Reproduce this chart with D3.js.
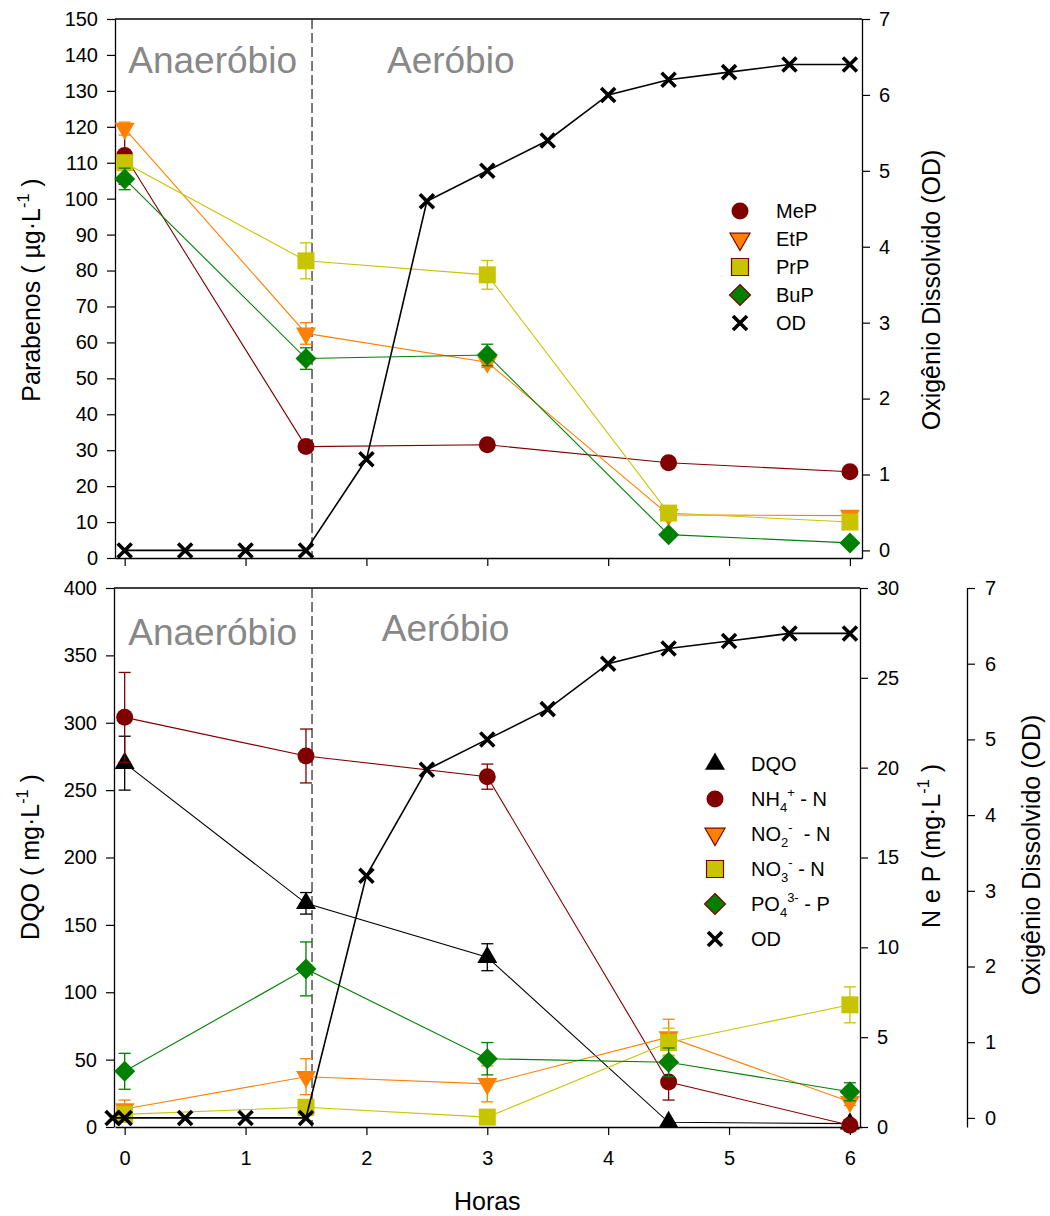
<!DOCTYPE html>
<html>
<head>
<meta charset="utf-8">
<script src="https://cdn.jsdelivr.net/npm/d3@7"></script>
<style>
  body { margin: 0; background: #fff; }
  svg { display: block; }
  text { font-family: "Liberation Sans", Arial, sans-serif; fill: #000; }
</style>
</head>
<body>
<svg id="chart" width="1050" height="1216"></svg>
<script>
// ---- sampling times (h) ----
const hours = [0, 1.5, 3, 4.5, 6];
const odHoursTop = [0, 0.5, 1, 1.5, 2, 2.5, 3, 3.5, 4, 4.5, 5, 5.5, 6];
const odHoursBottom = [-0.1, 0, 0.5, 1, 1.5, 2, 2.5, 3, 3.5, 4, 4.5, 5, 5.5, 6];
const phaseBoundary = 1.55;

// ---- parabens (µg/L) ----
const parabenNames = ["MeP", "EtP", "PrP", "BuP"];
const mepValues = [112, 31, 31.5, 26.5, 24];
const mepErrors = [8, 1, 1, 1, 1];
const etpValues = [119.5, 62.5, 54.5, 12, 11.8];
const etpErrors = [1.8, 3, 1.5, 1, 1];
const prpValues = [110, 82.7, 78.8, 12.5, 10];
const prpErrors = [2, 5, 4, 1, 1];
const bupValues = [105.5, 55.5, 56.5, 6.5, 4.2];
const bupErrors = [3, 3, 3, 1, 1];
const odTopValues = [0, 0, 0, 0, 1.2, 4.6, 5.0, 5.4, 6.0, 6.2, 6.3, 6.4, 6.4];

// ---- COD (mg/L), nitrogen and phosphorus (mg/L) ----
const dqoValues = [270, 166, 126, 3.5, 2.5];
const dqoErrors = [20, 8, 10, 0, 0];
const nh4Values = [22.8, 20.65, 19.5, 2.5, 0.1];
const nh4Errors = [2.5, 1.5, 0.7, 1.0, 0];
const no2Values = [1.0, 2.8, 2.4, 5.0, 1.4];
const no2Errors = [0.5, 1.0, 1.0, 1.0, 0.2];
const no3Values = [0.7, 1.1, 0.55, 4.7, 6.8];
const no3Errors = [0, 0, 0, 0.8, 1.0];
const po4Values = [3.1, 8.8, 3.8, 3.6, 1.96];
const po4Errors = [1.0, 1.5, 0.9, 0.8, 0.5];
const odBottomValues = [0, 0, 0, 0, 0, 3.2, 4.6, 5.0, 5.4, 6.0, 6.2, 6.3, 6.4, 6.4];

// ---- tick values ----
const hourTicks = [0, 1, 2, 3, 4, 5, 6];
const parabenTicks = d3.range(0, 151, 10);
const odTicks = [0, 1, 2, 3, 4, 5, 6, 7];
const dqoTicks = d3.range(0, 401, 50);
const npTicks = d3.range(0, 31, 5);

// ---- colours ----
const C = { red: "#800000", orange: "#ff8000", yellow: "#c8c400", green: "#008000", black: "#000" };

const svg = d3.select("#chart");
const FONT_TICK = 20, FONT_TITLE = 25, FONT_LEGEND = 20, FONT_PHASE = 37;

// ---- scales ----
const x = d3.scaleLinear().domain([-0.08, 6.1]).range([115, 862]);
const yPar = d3.scaleLinear().domain([0, 150]).range([558, 19]);
const yOdTop = d3.scaleLinear().domain([-0.1, 7]).range([558, 19]);
const yDqo = d3.scaleLinear().domain([0, 400]).range([1127, 588]);
const yNP = d3.scaleLinear().domain([0, 30]).range([1127, 588]);
const yOdBottom = d3.scaleLinear().domain([-0.12, 7]).range([1127, 588]);

// ---- marker shapes ----
function shapePath(kind, cx, cy) {
  const p = d3.path();
  if (kind === "circle") { p.moveTo(cx + 8.5, cy); p.arc(cx, cy, 8.5, 0, 2 * Math.PI); }
  else if (kind === "triDown") { p.moveTo(cx - 10, cy - 5.8); p.lineTo(cx + 10, cy - 5.8); p.lineTo(cx, cy + 11.5); p.closePath(); }
  else if (kind === "triUp") { p.moveTo(cx - 10, cy + 5.8); p.lineTo(cx + 10, cy + 5.8); p.lineTo(cx, cy - 11.5); p.closePath(); }
  else if (kind === "square") { p.rect(cx - 8.5, cy - 8.5, 17, 17); }
  else if (kind === "diamond") { p.moveTo(cx, cy - 10.5); p.lineTo(cx + 10.5, cy); p.lineTo(cx, cy + 10.5); p.lineTo(cx - 10.5, cy); p.closePath(); }
  else if (kind === "cross") { p.moveTo(cx - 7, cy - 7); p.lineTo(cx + 7, cy + 7); p.moveTo(cx + 7, cy - 7); p.lineTo(cx - 7, cy + 7); }
  return p.toString();
}

function drawMarker(g, kind, cx, cy, color, outline) {
  const m = g.append("path").attr("d", shapePath(kind, cx, cy));
  if (kind === "cross") {
    m.attr("fill", "none").attr("stroke", C.black).attr("stroke-width", 3.6);
  } else {
    m.attr("fill", color);
    if (outline) m.attr("stroke", outline).attr("stroke-width", 1.2);
  }
  return m;
}

function drawSeries(g, xs, values, errors, yScale, color, kind, lineWidth) {
  const pts = xs.map((h, i) => [h, values[i]]);
  g.append("path").datum(pts)
    .attr("d", d3.line().x(d => x(d[0])).y(d => yScale(d[1])))
    .attr("fill", "none").attr("stroke", color).attr("stroke-width", lineWidth || 1.1);
  if (errors) {
    pts.forEach((d, i) => {
      const e = errors[i];
      if (!e) return;
      const cx = x(d[0]), y1 = yScale(d[1] - e), y2 = yScale(d[1] + e);
      const eg = g.append("g").attr("stroke", color).attr("stroke-width", 1.3);
      eg.append("line").attr("x1", cx).attr("x2", cx).attr("y1", y1).attr("y2", y2);
      eg.append("line").attr("x1", cx - 6).attr("x2", cx + 6).attr("y1", y1).attr("y2", y1);
      eg.append("line").attr("x1", cx - 6).attr("x2", cx + 6).attr("y1", y2).attr("y2", y2);
    });
  }
  pts.forEach(d => drawMarker(g, kind, x(d[0]), yScale(d[1]), color));
}

// text with sub/superscript pieces
function richText(sel, parts, fontSize) {
  let shift = 0;
  parts.forEach(([t, kind]) => {
    const target = kind === "sub" ? 0.3 * fontSize : kind === "sup" ? -0.45 * fontSize : 0;
    const ts = sel.append("tspan").text(t).attr("dy", target - shift);
    if (kind) ts.attr("font-size", fontSize * 0.65);
    shift = target;
  });
  return sel;
}

function styleAxis(g) {
  g.selectAll("path.domain").attr("stroke", "#000").attr("stroke-width", 1.3);
  g.selectAll(".tick line").attr("stroke", "#000").attr("stroke-width", 1.2);
  g.selectAll(".tick text").attr("font-size", FONT_TICK).attr("fill", "#000")
    .attr("font-family", "Liberation Sans, Arial, sans-serif");
}

function axisTitle(parts, cx, cy, rotate) {
  const t = svg.append("text")
    .attr("transform", `translate(${cx},${cy}) rotate(${rotate})`)
    .attr("text-anchor", "middle").attr("font-size", FONT_TITLE)
    .style("white-space", "pre");
  richText(t, parts, FONT_TITLE);
  return t;
}

// ================= TOP PANEL =================
const topPanel = svg.append("g");

topPanel.append("g").attr("transform", `translate(${x.range()[0]},0)`)
  .call(d3.axisLeft(yPar).tickValues(parabenTicks).tickSize(8).tickSizeOuter(0).tickPadding(9))
  .call(styleAxis);
topPanel.append("g").attr("transform", `translate(${x.range()[1]},0)`)
  .call(d3.axisRight(yOdTop).tickValues(odTicks).tickSize(8).tickSizeOuter(0).tickPadding(9))
  .call(styleAxis);
topPanel.append("g").attr("transform", `translate(0,${yPar(0)})`)
  .call(d3.axisBottom(x).tickValues(hourTicks).tickFormat("").tickSize(8).tickSizeOuter(0))
  .call(styleAxis);
topPanel.append("line").attr("x1", x.range()[0]).attr("x2", x.range()[1])
  .attr("y1", yPar(150)).attr("y2", yPar(150)).attr("stroke", "#000").attr("stroke-width", 1.3);

topPanel.append("line").attr("x1", x(phaseBoundary)).attr("x2", x(phaseBoundary))
  .attr("y1", yPar(150)).attr("y2", yPar(0))
  .attr("stroke", "#222").attr("stroke-width", 1.2).attr("stroke-dasharray", "10,4");

topPanel.append("text").attr("x", x(0.03)).attr("y", yPar(135)).attr("font-size", FONT_PHASE).style("fill", "#888").text("Anaeróbio");
topPanel.append("text").attr("x", x(2.17)).attr("y", yPar(135)).attr("font-size", FONT_PHASE).style("fill", "#888").text("Aeróbio");

drawSeries(topPanel, hours, mepValues, mepErrors, yPar, C.red, "circle");
drawSeries(topPanel, hours, etpValues, etpErrors, yPar, C.orange, "triDown");
drawSeries(topPanel, hours, prpValues, prpErrors, yPar, C.yellow, "square");
drawSeries(topPanel, hours, bupValues, bupErrors, yPar, C.green, "diamond");
drawSeries(topPanel, odHoursTop, odTopValues, null, yOdTop, C.black, "cross", 1.6);

// legend (top)
const topLegend = [
  { name: parabenNames[0], color: C.red, kind: "circle" },
  { name: parabenNames[1], color: C.orange, kind: "triDown", outline: C.red },
  { name: parabenNames[2], color: C.yellow, kind: "square", outline: C.red },
  { name: parabenNames[3], color: C.green, kind: "diamond", outline: C.red },
  { name: "OD", color: C.black, kind: "cross" }
];
topLegend.forEach((d, i) => {
  const ly = 211 + i * 28;
  drawMarker(topPanel, d.kind, 740, ly, d.color, d.outline);
  topPanel.append("text").attr("x", 776).attr("y", ly).attr("dy", "0.36em").attr("font-size", FONT_LEGEND).text(d.name);
});

axisTitle([["Parabenos ( µg·L"], ["-1", "sup"], [" )"]], 40, 290, -90);
axisTitle([["Oxigênio Dissolvido (OD)"]], 940, 290, -90);

// ================= BOTTOM PANEL =================
const bottomPanel = svg.append("g");

bottomPanel.append("g").attr("transform", `translate(${x.range()[0] - 1},0)`)
  .call(d3.axisLeft(yDqo).tickValues(dqoTicks).tickSize(8).tickSizeOuter(0).tickPadding(9))
  .call(styleAxis);
bottomPanel.append("g").attr("transform", `translate(${x.range()[1] - 2},0)`)
  .call(d3.axisRight(yNP).tickValues(npTicks).tickSize(8).tickSizeOuter(0).tickPadding(9))
  .call(styleAxis);
bottomPanel.append("g").attr("transform", `translate(967,0)`)
  .call(d3.axisRight(yOdBottom).tickValues(odTicks).tickSize(8).tickSizeOuter(0).tickPadding(10))
  .call(styleAxis);
bottomPanel.append("g").attr("transform", `translate(0,${yDqo(0)})`)
  .call(d3.axisBottom(x).tickValues(hourTicks).tickFormat(d3.format("d")).tickSize(8).tickSizeOuter(0).tickPadding(16))
  .call(styleAxis);
bottomPanel.append("line").attr("x1", x.range()[0] - 1).attr("x2", x.range()[1] - 2)
  .attr("y1", yDqo(400)).attr("y2", yDqo(400)).attr("stroke", "#000").attr("stroke-width", 1.3);

bottomPanel.append("line").attr("x1", x(phaseBoundary)).attr("x2", x(phaseBoundary))
  .attr("y1", yDqo(400)).attr("y2", yDqo(0))
  .attr("stroke", "#222").attr("stroke-width", 1.2).attr("stroke-dasharray", "10,4");

bottomPanel.append("text").attr("x", x(0.03)).attr("y", yDqo(358)).attr("font-size", FONT_PHASE).style("fill", "#888").text("Anaeróbio");
bottomPanel.append("text").attr("x", x(2.127)).attr("y", yDqo(361)).attr("font-size", FONT_PHASE).style("fill", "#888").text("Aeróbio");

drawSeries(bottomPanel, hours, dqoValues, dqoErrors, yDqo, C.black, "triUp");
drawSeries(bottomPanel, hours, nh4Values, nh4Errors, yNP, C.red, "circle");
drawSeries(bottomPanel, hours, no2Values, no2Errors, yNP, C.orange, "triDown");
drawSeries(bottomPanel, hours, no3Values, no3Errors, yNP, C.yellow, "square");
drawSeries(bottomPanel, hours, po4Values, po4Errors, yNP, C.green, "diamond");
drawSeries(bottomPanel, odHoursBottom, odBottomValues, null, yOdBottom, C.black, "cross", 1.6);

// legend (bottom)
const bottomLegend = [
  { parts: [["DQO"]], color: C.black, kind: "triUp" },
  { parts: [["NH"], ["4", "sub"], ["+", "sup"], [" - N"]], color: C.red, kind: "circle" },
  { parts: [["NO"], ["2", "sub"], ["-", "sup"], ["  - N"]], color: C.orange, kind: "triDown", outline: C.red },
  { parts: [["NO"], ["3", "sub"], ["-", "sup"], [" - N"]], color: C.yellow, kind: "square", outline: C.red },
  { parts: [["PO"], ["4", "sub"], ["3-", "sup"], [" - P"]], color: C.green, kind: "diamond", outline: C.red },
  { parts: [["OD"]], color: C.black, kind: "cross" }
];
bottomLegend.forEach((d, i) => {
  const ly = 764 + i * 35;
  drawMarker(bottomPanel, d.kind, 715, ly, d.color, d.outline);
  const t = bottomPanel.append("text").attr("x", 751).attr("y", ly + 7).attr("font-size", FONT_LEGEND)
    .style("white-space", "pre");
  richText(t, d.parts, FONT_LEGEND);
});

axisTitle([["DQO ( mg·L"], ["-1", "sup"], [" )"]], 39, 857, -90);
axisTitle([["N e P (mg·L"], ["-1", "sup"], [" )"]], 940, 846, -90);
axisTitle([["Oxigênio Dissolvido (OD)"]], 1040, 855, -90);

svg.append("text").attr("x", x(3)).attr("y", 1210).attr("text-anchor", "middle")
  .attr("font-size", FONT_TITLE).text("Horas");
</script>
</body>
</html>
